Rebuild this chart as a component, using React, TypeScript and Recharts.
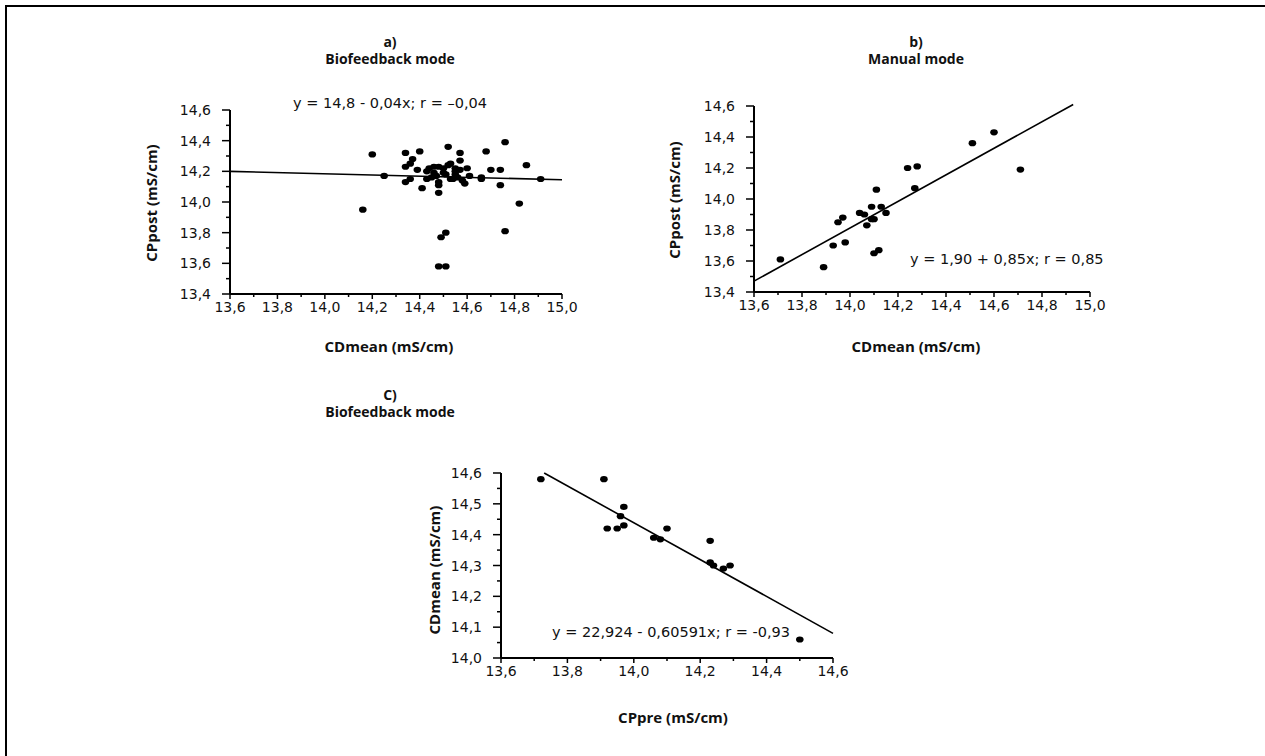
import React from 'react';
import { ScatterChart, Scatter, XAxis, YAxis, ReferenceLine } from 'recharts';

// panel a) Biofeedback mode: CDmean vs CPpost
const aX = [14.2, 14.16, 14.25, 14.34, 14.4, 14.37, 14.34, 14.36, 14.39, 14.34, 14.36, 14.41, 14.43, 14.44, 14.46, 14.47, 14.48, 14.46, 14.48, 14.48, 14.48, 14.52, 14.5, 14.53, 14.55, 14.57, 14.57, 14.57, 14.53, 14.56, 14.6, 14.58, 14.59, 14.61, 14.51, 14.55, 14.66, 14.66, 14.68, 14.7, 14.74, 14.74, 14.76, 14.76, 14.82, 14.85, 14.91, 14.49, 14.51, 14.48, 14.51, 14.43, 14.45, 14.5, 14.52, 14.54, 14.55];
const aY = [14.31, 13.95, 14.17, 14.32, 14.33, 14.28, 14.23, 14.25, 14.21, 14.13, 14.15, 14.09, 14.15, 14.22, 14.19, 14.17, 14.23, 14.23, 14.13, 14.11, 14.06, 14.36, 14.19, 14.25, 14.2, 14.32, 14.27, 14.21, 14.15, 14.16, 14.22, 14.14, 14.12, 14.17, 14.18, 14.18, 14.15, 14.16, 14.33, 14.21, 14.21, 14.11, 14.39, 13.81, 13.99, 14.24, 14.15, 13.77, 13.8, 13.58, 13.58, 14.2, 14.16, 14.22, 14.24, 14.15, 14.22];
const lineA = [[13.6, 14.2], [15.0, 14.145]];

// panel b) Manual mode
const bX = [13.71, 13.89, 13.93, 13.95, 13.97, 13.98, 14.04, 14.06, 14.07, 14.09, 14.09, 14.1, 14.11, 14.1, 14.12, 14.13, 14.15, 14.24, 14.28, 14.27, 14.51, 14.6, 14.71];
const bY = [13.61, 13.56, 13.7, 13.85, 13.88, 13.72, 13.91, 13.9, 13.83, 13.95, 13.87, 13.87, 14.06, 13.65, 13.67, 13.95, 13.91, 14.2, 14.21, 14.07, 14.36, 14.43, 14.19];
const lineB = [[13.6, 13.47], [14.93, 14.61]];

// panel C) Biofeedback mode: CPpre vs CDmean
const cX = [13.72, 13.91, 13.97, 13.96, 13.92, 13.95, 13.97, 14.06, 14.08, 14.1, 14.23, 14.23, 14.24, 14.27, 14.29, 14.5];
const cY = [14.58, 14.58, 14.49, 14.46, 14.42, 14.42, 14.43, 14.39, 14.385, 14.42, 14.38, 14.31, 14.3, 14.29, 14.3, 14.06];
const lineC = [[13.73, 14.6], [14.6, 14.08]];

const xTicksAB = [13.6, 13.7, 13.8, 13.9, 14.0, 14.1, 14.2, 14.3, 14.4, 14.5, 14.6, 14.7, 14.8, 14.9, 15.0];
const yTicksAB = [13.4, 13.5, 13.6, 13.7, 13.8, 13.9, 14.0, 14.1, 14.2, 14.3, 14.4, 14.5, 14.6];
const xTicksC = [13.6, 13.7, 13.8, 13.9, 14.0, 14.1, 14.2, 14.3, 14.4, 14.5, 14.6];
const yTicksC = [14.0, 14.05, 14.1, 14.15, 14.2, 14.25, 14.3, 14.35, 14.4, 14.45, 14.5, 14.55, 14.6];

const W = 1265;
const H = 756;
const tickFont = '"DejaVu Sans", sans-serif';
const boldFont = '"Open Sans", sans-serif';

const toPoints = (xs: number[], ys: number[]) => xs.map((x, i) => ({ x, y: ys[i] }));
const fmt = (v: number) => v.toFixed(1).replace('.', ',');
const isMajor = (v: number, step: number) => Math.abs(v / step - Math.round(v / step)) < 1e-6;

const Dot = (p: any) => <ellipse cx={p.cx} cy={p.cy} rx={3.8} ry={3.1} fill="#000" />;

const xTick = (step: number) => (p: any) => {
  const v = p.payload.value;
  const major = isMajor(v, step);
  return (
    <g>
      <line x1={p.x} x2={p.x} y1={p.y} y2={p.y + (major ? 5 : 3)} stroke="#000" strokeWidth={1.5} />
      {major && (
        <text x={p.x} y={p.y + 13} textAnchor="middle" dominantBaseline="central" fontFamily={tickFont} fontSize={14} fill="#111">
          {fmt(v)}
        </text>
      )}
    </g>
  );
};

const yTick = (step: number) => (p: any) => {
  const v = p.payload.value;
  const major = isMajor(v, step);
  return (
    <g>
      <line x1={p.x - (major ? 8 : 4)} x2={p.x} y1={p.y} y2={p.y} stroke="#000" strokeWidth={1.5} />
      {major && (
        <text x={p.x - 19} y={p.y} textAnchor="end" dominantBaseline="central" fontFamily={tickFont} fontSize={14} fill="#111">
          {fmt(v)}
        </text>
      )}
    </g>
  );
};

type PanelProps = {
  pts: { x: number; y: number }[];
  line: number[][];
  xDomain: number[];
  yDomain: number[];
  xTicks: number[];
  yTicks: number[];
  xStep: number;
  yStep: number;
  left: number;
  right: number;
  top: number;
  bottom: number;
};

const Panel = ({ pts, line, xDomain, yDomain, xTicks, yTicks, xStep, yStep, left, right, top, bottom }: PanelProps) => (
  <div style={{ position: 'absolute', left: 0, top: 0 }}>
    <ScatterChart
      width={W}
      height={H}
      margin={{ left: left - 60, right: W - right, top, bottom: H - bottom - 30 }}
    >
      <XAxis
        type="number"
        dataKey="x"
        domain={xDomain}
        ticks={xTicks}
        interval={0}
        allowDataOverflow
        height={30}
        tickSize={0}
        tickMargin={0}
        tickLine={false}
        axisLine={{ stroke: '#000', strokeWidth: 2 }}
        tick={xTick(xStep)}
      />
      <YAxis
        type="number"
        dataKey="y"
        domain={yDomain}
        ticks={yTicks}
        interval={0}
        allowDataOverflow
        width={60}
        tickSize={0}
        tickMargin={0}
        tickLine={false}
        axisLine={{ stroke: '#000', strokeWidth: 2 }}
        tick={yTick(yStep)}
      />
      <ReferenceLine
        segment={[{ x: line[0][0], y: line[0][1] }, { x: line[1][0], y: line[1][1] }]}
        stroke="#000"
        strokeWidth={1.6}
        ifOverflow="visible"
      />
      <Scatter data={pts} shape={Dot} isAnimationActive={false} />
    </ScatterChart>
  </div>
);

const Txt = ({ x, y, children, bold, size, rotate }: any) => (
  <div
    style={{
      position: 'absolute',
      left: x,
      top: y,
      transform: `translate(-50%, -50%)${rotate ? ' rotate(-90deg)' : ''}`,
      whiteSpace: 'nowrap',
      fontFamily: bold ? boldFont : tickFont,
      fontWeight: bold ? 700 : 400,
      fontSize: size,
      color: '#111',
      lineHeight: 1,
    }}
  >
    {children}
  </div>
);

const TxtLeft = ({ x, y, children }: any) => (
  <div
    style={{
      position: 'absolute',
      left: x,
      top: y,
      transform: 'translateY(-50%)',
      whiteSpace: 'nowrap',
      fontFamily: tickFont,
      fontSize: 14.5,
      color: '#111',
      lineHeight: 1,
    }}
  >
    {children}
  </div>
);

export default function App() {
  return (
    <div style={{ position: 'absolute', left: 0, top: 0, width: W, height: H, background: '#fff', overflow: 'hidden' }}>
      <div style={{ position: 'absolute', left: 5, top: 5, width: W - 5, height: 2, background: '#000' }} />
      <div style={{ position: 'absolute', left: 5, top: 5, width: 2, height: H - 5, background: '#000' }} />

      <Panel pts={toPoints(aX, aY)} line={lineA} xDomain={[13.6, 15.0]} yDomain={[13.4, 14.6]}
        xTicks={xTicksAB} yTicks={yTicksAB} xStep={0.2} yStep={0.2} left={230} right={562} top={110} bottom={294} />
      <Panel pts={toPoints(bX, bY)} line={lineB} xDomain={[13.6, 15.0]} yDomain={[13.4, 14.6]}
        xTicks={xTicksAB} yTicks={yTicksAB} xStep={0.2} yStep={0.2} left={754} right={1090} top={106} bottom={292} />
      <Panel pts={toPoints(cX, cY)} line={lineC} xDomain={[13.6, 14.6]} yDomain={[14.0, 14.6]}
        xTicks={xTicksC} yTicks={yTicksC} xStep={0.2} yStep={0.1} left={501} right={833} top={473} bottom={658} />

      <Txt x={390} y={42} bold size={14}>a)</Txt>
      <Txt x={390} y={59} bold size={14}>Biofeedback mode</Txt>
      <Txt x={916} y={42} bold size={14}>b)</Txt>
      <Txt x={916} y={59} bold size={14}>Manual mode</Txt>
      <Txt x={390} y={395} bold size={14}>C)</Txt>
      <Txt x={390} y={412} bold size={14}>Biofeedback mode</Txt>

      <Txt x={390} y={103} size={14.5}>y = 14,8 - 0,04x; r = –0,04</Txt>
      <TxtLeft x={910} y={259}>y = 1,90 + 0,85x; r = 0,85</TxtLeft>
      <TxtLeft x={552} y={632}>y = 22,924 - 0,60591x; r = -0,93</TxtLeft>

      <Txt x={389} y={346} bold size={15}>CDmean (mS/cm)</Txt>
      <Txt x={916} y={346} bold size={15}>CDmean (mS/cm)</Txt>
      <Txt x={673} y={717} bold size={15}>CPpre (mS/cm)</Txt>
      <Txt x={151} y={203} bold size={15} rotate>CPpost (mS/cm)</Txt>
      <Txt x={674} y={200} bold size={15} rotate>CPpost (mS/cm)</Txt>
      <Txt x={434} y={570} bold size={15} rotate>CDmean (mS/cm)</Txt>
    </div>
  );
}
